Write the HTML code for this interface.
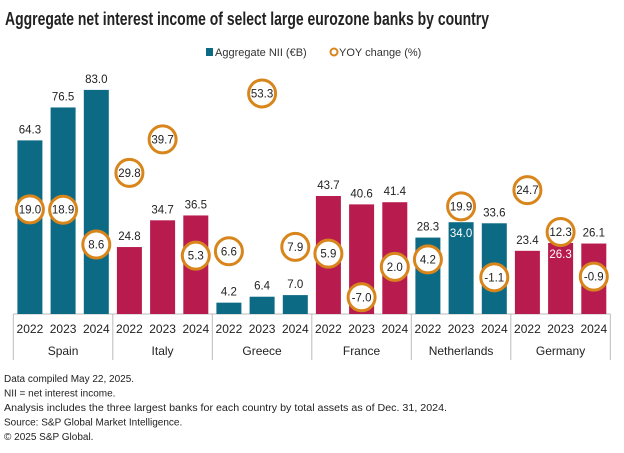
<!DOCTYPE html>
<html><head><meta charset="utf-8"><style>
html,body{margin:0;padding:0;background:#fff;}
svg{display:block;font-family:"Liberation Sans",sans-serif;}
</style></head><body>
<svg id="chart" width="624" height="453" viewBox="0 0 624 453" xmlns="http://www.w3.org/2000/svg">
<text x="5" y="25" font-size="18" font-weight="bold" fill="#222" textLength="484" lengthAdjust="spacingAndGlyphs">Aggregate net interest income of select large eurozone banks by country</text>
<g>
<rect x="206" y="48" width="7" height="8" fill="#0d6a85"/>
<text x="215" y="56" font-size="11" fill="#333">Aggregate NII (€B)</text>
<circle cx="334" cy="52" r="3.5" fill="none" stroke="#d8861c" stroke-width="2"/>
<text x="339" y="56" font-size="11" fill="#333">YOY change (%)</text>
</g>
<g id="plot"></g>
<g font-size="10" fill="#222">
<text x="4" y="382">Data compiled May 22, 2025.</text>
<text x="4" y="396.5">NII = net interest income.</text>
<text x="4" y="411" textLength="443" lengthAdjust="spacingAndGlyphs">Analysis includes the three largest banks for each country by total assets as of Dec. 31, 2024.</text>
<text x="4" y="425.5">Source: S&amp;P Global Market Intelligence.</text>
<text x="4" y="440">© 2025 S&amp;P Global.</text>
</g>
</svg>
<script>
const countries = ["Spain","Italy","Greece","France","Netherlands","Germany"];
const years = ["2022","2023","2024"];
const niiValues = [64.3,76.5,83.0, 24.8,34.7,36.5, 4.2,6.4,7.0, 43.7,40.6,41.4, 28.3,34.0,33.6, 23.4,26.3,26.1];
const yoyValues = [19.0,18.9,8.6, 29.8,39.7,5.3, 6.6,53.3,7.9, 5.9,-7.0,2.0, 4.2,19.9,-1.1, 24.7,12.3,-0.9];
const countryColors = ["#0d6a85","#b81c4f","#0d6a85","#b81c4f","#0d6a85","#b81c4f"];
const insideLabels = [13,16];

const NS="http://www.w3.org/2000/svg";
const plot=document.getElementById('plot');
const base=314, x0=13.3, groupW=99.5, pitch=33.2, barW=25;
const yNii=v=>base - v*2.70;
const yYoy=v=>273.6 - v*3.38;
const xc=(g,i)=>x0+g*groupW+16.6+i*pitch;
function mk(tag,attrs,parent){const e=document.createElementNS(NS,tag);for(const k in attrs)e.setAttribute(k,attrs[k]);(parent||plot).appendChild(e);return e;}

const ax=mk('line',{x1:x0,x2:x0+groupW*countries.length,y1:base,y2:base,stroke:'#bbb','stroke-width':1});


for(let g=0;g<=countries.length;g++){
  const t=mk('line',{x1:x0+g*groupW,x2:x0+g*groupW,y1:base,y2:360,stroke:'#bbb','stroke-width':1});
  
  
}
countries.forEach((c,g)=>{
  const ct=mk('text',{x:x0+g*groupW+groupW/2,y:355,'font-size':12,fill:'#222','text-anchor':'middle'});
  ct.textContent=c;
  
  
  years.forEach((yr,i)=>{
    const yt=mk('text',{x:xc(g,i),y:333,'font-size':12,fill:'#222','text-anchor':'middle'});
    yt.textContent=yr;
    
    
  });
});
niiValues.forEach((v,k)=>{
  const g=Math.floor(k/3), i=k%3, cx=xc(g,i), y=yNii(v);
  const r=mk('rect',{x:cx-barW/2,y:y,width:barW,height:base-y,fill:countryColors[g]});
  
  
  const inside=insideLabels.includes(k);
  const t=mk('text',{x:cx,y:inside?y+15:y-7,'font-size':11.5,fill:inside?'#fff':'#222','text-anchor':'middle'});
  t.textContent=v.toFixed(1);
  
  
});
yoyValues.forEach((v,k)=>{
  const g=Math.floor(k/3), i=k%3, cx=xc(g,i), cy=yYoy(v);
  const c=mk('circle',{cx:cx,cy:cy,r:13.5,fill:'#fff',stroke:'#d8861c','stroke-width':3});
  
  
  const t=mk('text',{x:cx,y:cy+4,'font-size':11.5,fill:'#222','text-anchor':'middle'});
  t.textContent=v.toFixed(1);
  
  
});
</script>
</body></html>
